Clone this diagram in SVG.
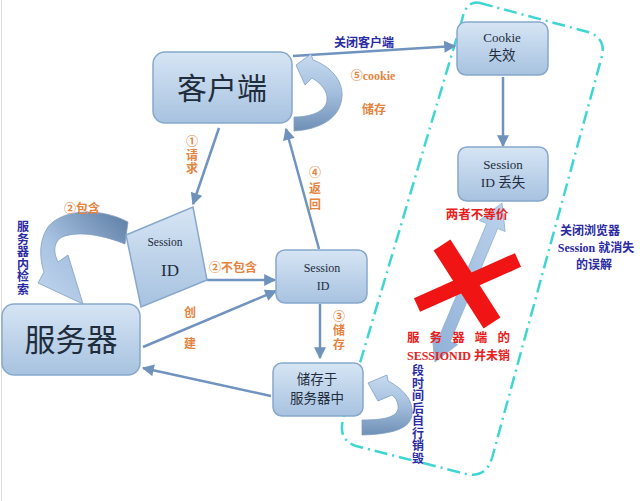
<svg xmlns="http://www.w3.org/2000/svg" width="640" height="501" viewBox="0 0 640 501">
<defs>
<linearGradient id="box" x1="0" y1="0" x2="0" y2="1">
<stop offset="0" stop-color="#d6e5f4"/>
<stop offset="1" stop-color="#a7c2e0"/>
</linearGradient>
<linearGradient id="bandV" x1="0" y1="0" x2="0" y2="1">
<stop offset="0" stop-color="#c8dbf0"/>
<stop offset="0.5" stop-color="#a4bfde"/>
<stop offset="1" stop-color="#6e8fb5"/>
</linearGradient>
<linearGradient id="bandH" x1="1" y1="0" x2="0" y2="1">
<stop offset="0" stop-color="#5b7ca3"/>
<stop offset="0.6" stop-color="#a9c3e2"/>
<stop offset="1" stop-color="#c2d7ee"/>
</linearGradient>
<linearGradient id="dbl" x1="0" y1="1" x2="1" y2="0">
<stop offset="0" stop-color="#8fb0d6"/>
<stop offset="1" stop-color="#bcd2ec"/>
</linearGradient>
<marker id="ah" viewBox="0 0 10 10" refX="9" refY="5" markerUnits="userSpaceOnUse" markerWidth="13" markerHeight="12" orient="auto">
<path d="M0,0 L10,5 L0,10 Z" fill="#6f92bd"/>
</marker>
<style>
.box{fill:url(#box);stroke:#87a8cc;stroke-width:1.5}
.t{font-family:"Liberation Serif","Noto Sans CJK SC",serif;fill:#1f2d3d;text-anchor:middle}
.cj{font-family:"Liberation Serif","Noto Sans CJK SC",serif;fill:#1f2d3d;text-anchor:middle}
.or{font-family:"Liberation Serif","Noto Sans CJK SC",serif;font-weight:bold;fill:#e5843f;text-anchor:middle;font-size:12px}
.bl{font-family:"Liberation Serif","Noto Sans CJK SC",serif;font-weight:bold;fill:#2b2ba3;text-anchor:middle;font-size:12px}
.rd{font-family:"Liberation Serif","Noto Sans CJK SC",serif;font-weight:bold;fill:#e82020;font-size:12.5px}
.conn line{stroke:#7093bf;stroke-width:2.5;marker-end:url(#ah)}
</style>
</defs>
<rect width="640" height="501" fill="#ffffff"/>
<line x1="1.5" y1="0" x2="1.5" y2="501" stroke="#dddddd" stroke-width="1"/>

<g id="zone">
<path d="M 480,3 L 588,32 Q 606,38 602,56 L 492,458 Q 486,478 466,474 L 356,446 Q 338,440 343,420 L 462,20 Q 466,0 480,3 Z" fill="none" stroke="#3fd6d2" stroke-width="2.5" stroke-dasharray="13 5 2 5"/>
</g>

<g id="connectors" class="conn">
<line x1="219" y1="128" x2="193" y2="204"/>
<line x1="319" y1="249" x2="286" y2="129"/>
<line x1="207" y1="280" x2="275" y2="280"/>
<line x1="143" y1="347" x2="276" y2="291"/>
<line x1="320" y1="304" x2="320" y2="358"/>
<line x1="271" y1="396" x2="143" y2="368"/>
<line x1="293" y1="56" x2="455" y2="46"/>
<line x1="503" y1="77" x2="503" y2="146"/>
</g>

<g id="loop-client">
<path d="M 294,117 C 310,117 326,112 327,100 C 328,92 322,84 312,78 L 305,85 L 296,65 L 311,54 L 313,60 C 330,66 343,80 342,96 C 341,115 325,129 294,131 Z" fill="url(#bandV)" stroke="#7f9fc4" stroke-width="0.8"/>
</g>
<g id="loop-server">
<path d="M 128,222 C 100,207 62,209 48,227 C 38,242 40,260 44,272 L 38,283 L 83,304 L 68,255 L 58,262 C 52,250 55,241 62,237 C 80,230 105,236 125,244 Z" fill="url(#bandH)" stroke="#7f9fc4" stroke-width="0.8"/>
</g>
<g id="loop-store">
<path d="M 362,420 C 385,420 400,417 398,405 C 397,400 395,397 392,395 L 378,401 L 368,383 L 387,375 L 388,381 C 402,388 414,400 412,415 C 410,428 395,434 362,435 Z" fill="url(#bandV)" stroke="#7f9fc4" stroke-width="0.8"/>
</g>

<g id="client">
<rect class="box" x="153" y="52" width="139" height="71" rx="12"/>
<text class="cj" x="222" y="99" font-size="30">客户端</text>
</g>
<g id="server">
<rect class="box" x="2" y="304" width="138" height="71" rx="12"/>
<text class="cj" x="71" y="351" font-size="31">服务器</text>
</g>
<g id="session-quad">
<path class="box" d="M 126,235 L 193,207 L 207,280 L 141,307 Z"/>
<text class="t" x="165" y="246" font-size="11.5">Session</text>
<text class="t" x="170" y="276" font-size="17">ID</text>
</g>
<g id="session-box">
<rect class="box" x="276" y="250" width="91" height="53" rx="9"/>
<text class="t" x="322" y="272" font-size="12">Session</text>
<text class="t" x="323" y="290" font-size="12">ID</text>
</g>
<g id="store">
<rect class="box" x="273" y="363" width="90" height="53" rx="9"/>
<text class="cj" x="317" y="384" font-size="13.5">储存于</text>
<text class="cj" x="317" y="403" font-size="13.5">服务器中</text>
</g>
<g id="cookie">
<rect class="box" x="457" y="22" width="91" height="53" rx="9"/>
<text class="t" x="502" y="42" font-size="13">Cookie</text>
<text class="cj" x="502" y="60" font-size="13.5">失效</text>
</g>
<g id="lost">
<rect class="box" x="458" y="147" width="90" height="54" rx="9"/>
<text class="t" x="503" y="169" font-size="13">Session</text>
<text class="t" x="503" y="187" font-size="13.5">ID 丢失</text>
</g>

<g id="double-arrow">
<polygon points="502,203 505.1,231.5 497.7,228.4 450.3,341.4 457.7,344.5 435,362 431.9,333.5 439.3,336.6 486.7,223.6 479.3,220.5" fill="url(#dbl)" stroke="#8eaed3" stroke-width="0.8"/>
</g>
<g id="cross">
<line x1="442" y1="245" x2="492" y2="323" stroke="#f01414" stroke-width="20"/>
<line x1="417" y1="305" x2="518" y2="260" stroke="#f01414" stroke-width="15"/>
</g>

<g id="labels">
<text class="or" font-size="10.5"><tspan x="192" y="146">①</tspan><tspan x="192" y="159.5">请</tspan><tspan x="192" y="173">求</tspan></text>
<text class="or" x="82" y="213" font-size="11.5">②包含</text>
<text class="or" x="233" y="272">②不包含</text>
<text class="or"><tspan x="190" y="317">创</tspan><tspan x="190" y="348">建</tspan></text>
<text class="or" font-size="11"><tspan x="339" y="321">③</tspan><tspan x="339" y="335">储</tspan><tspan x="339" y="349">存</tspan></text>
<text class="or" font-size="13"><tspan x="315" y="177">④</tspan><tspan x="315" y="193">返</tspan><tspan x="315" y="209">回</tspan></text>
<text class="or" x="373" y="80" font-size="15">⑤cookie</text>
<text class="or" x="374" y="114" font-size="16">储存</text>

<text class="bl" x="364" y="47">关闭客户端</text>
<text class="bl" font-size="10"><tspan x="23" y="231">服</tspan><tspan x="23" y="243.5">务</tspan><tspan x="23" y="256">器</tspan><tspan x="23" y="268.5">内</tspan><tspan x="23" y="281">检</tspan><tspan x="23" y="293.5">索</tspan></text>
<text class="bl" font-size="10.5"><tspan x="418" y="375">段</tspan><tspan x="418" y="387.5">时</tspan><tspan x="418" y="400">间</tspan><tspan x="418" y="412.5">后</tspan><tspan x="418" y="425">自</tspan><tspan x="418" y="437.5">行</tspan><tspan x="418" y="450">销</tspan><tspan x="418" y="462.5">毁</tspan></text>
<text class="bl" x="590" y="235">关闭浏览器</text>
<text class="bl" x="596" y="252">Session 就消失</text>
<text class="bl" x="594" y="269">的误解</text>

<text class="rd" x="477" y="219" text-anchor="middle">两者不等价</text>
<text class="rd" x="407" y="342" textLength="103" lengthAdjust="spacing">服 务 器 端 的</text>
<text class="rd" x="407" y="360" textLength="103" lengthAdjust="spacingAndGlyphs">SESSIONID 并未销</text>
</g>
</svg>
